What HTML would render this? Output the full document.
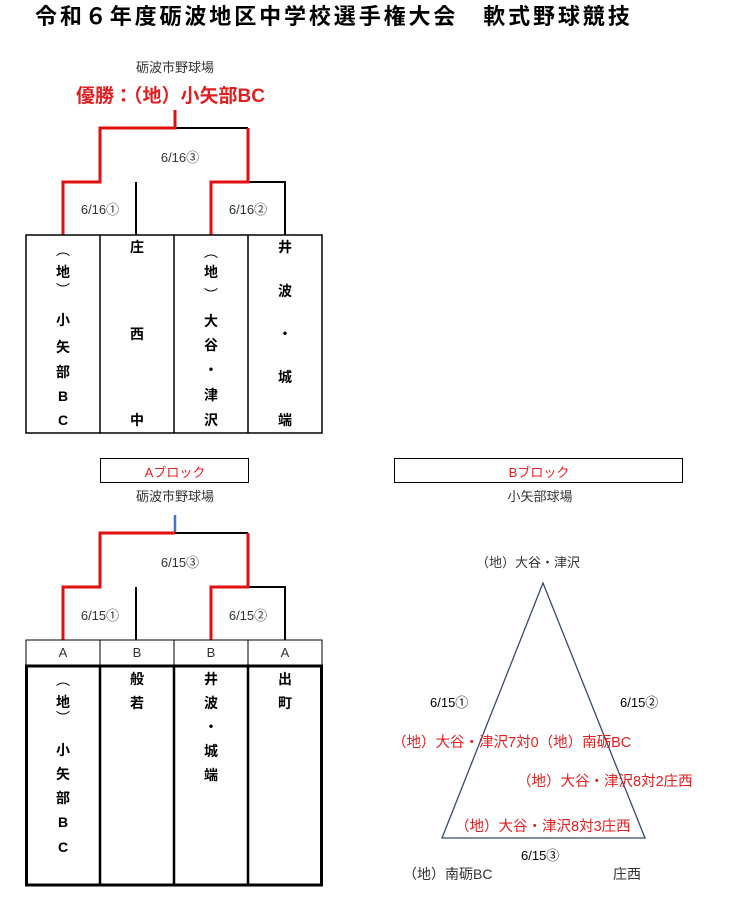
<!DOCTYPE html>
<html><head><meta charset="utf-8"><style>
body{margin:0;width:755px;height:901px;background:#fff;position:relative;overflow:hidden;font-family:"Liberation Sans","Noto Sans CJK JP",sans-serif;}
.a{position:absolute;white-space:nowrap;}
.c{position:absolute;width:40px;text-align:center;font-weight:bold;font-size:14px;line-height:16px;color:#000;}
.t{position:absolute;font-size:13px;color:#333;white-space:nowrap;text-align:center;}
.r{color:#e02020;}
</style></head><body>
<div class="a" style="left:35px;top:3px;font-size:22px;font-weight:bold;letter-spacing:2.9px;line-height:28px;">令和６年度砺波地区中学校選手権大会　軟式野球競技</div>
<div class="t" style="left:100px;width:150px;top:57px;">砺波市野球場</div>
<div class="a" style="left:76px;top:86px;font-size:19px;font-weight:bold;color:#e02020;line-height:22px;">優勝：（地）小矢部BC</div>

<svg width="755" height="901" style="position:absolute;left:0;top:0" xmlns="http://www.w3.org/2000/svg">
<g fill="none" stroke-width="2">
<path d="M175 128H248" stroke="#000"/>
<path d="M136 182V235M248 182H285V235" stroke="#000"/>
<path d="M175 110V128H100V182H63V235" stroke="#e01010" stroke-width="3"/>
<path d="M248 128V182H211V235" stroke="#e01010" stroke-width="3"/>
<rect x="26" y="235" width="296" height="198" stroke="#000" stroke-width="1.5"/>
<path d="M100 235V433M174 235V433M248 235V433" stroke="#000" stroke-width="1.5"/>
<rect x="100.5" y="458.5" width="148" height="24" stroke="#000" stroke-width="1"/>
<rect x="394.5" y="458.5" width="288" height="24" stroke="#000" stroke-width="1"/>
<path d="M175 515V533" stroke="#4472c4" stroke-width="2.5"/>
<path d="M175 533H248M136 587V640M248 587H285V640" stroke="#000"/>
<path d="M175 533H100V587H63V640" stroke="#e01010" stroke-width="3"/>
<path d="M248 533V587H211V640" stroke="#e01010" stroke-width="3"/>
<rect x="26" y="640" width="296" height="25" stroke="#000" stroke-width="1"/>
<path d="M100 640V665M174 640V665M248 640V665" stroke="#000" stroke-width="1"/>
<rect x="26.5" y="666" width="295" height="219" stroke="#000" stroke-width="3"/>
<path d="M100 666V885M174 666V885M248 666V885" stroke="#000" stroke-width="2.5"/>
<path d="M543 583L442 838H645Z" stroke="#3a4a6a" stroke-width="1.3"/>
</g>
</svg>

<div class="t" style="left:130px;width:100px;top:147px;">6/16③</div>
<div class="t" style="left:60px;width:80px;top:199px;">6/16①</div>
<div class="t" style="left:208px;width:80px;top:199px;">6/16②</div>

<div class="c" style="left:43px;top:242px;font-weight:normal">︵</div>
<div class="c" style="left:43px;top:264px;">地</div>
<div class="c" style="left:43px;top:282px;font-weight:normal">︶</div>
<div class="c" style="left:43px;top:312px;">小</div>
<div class="c" style="left:43px;top:339px;">矢</div>
<div class="c" style="left:43px;top:364px;">部</div>
<div class="c" style="left:43px;top:388px;">B</div>
<div class="c" style="left:43px;top:412px;">C</div>
<div class="c" style="left:117px;top:239px;">庄</div>
<div class="c" style="left:117px;top:326px;">西</div>
<div class="c" style="left:117px;top:412px;">中</div>
<div class="c" style="left:191px;top:244px;font-weight:normal">︵</div>
<div class="c" style="left:191px;top:264px;">地</div>
<div class="c" style="left:191px;top:287px;font-weight:normal">︶</div>
<div class="c" style="left:191px;top:313px;">大</div>
<div class="c" style="left:191px;top:337px;">谷</div>
<div class="c" style="left:191px;top:362px;">・</div>
<div class="c" style="left:191px;top:387px;">津</div>
<div class="c" style="left:191px;top:412px;">沢</div>
<div class="c" style="left:265px;top:239px;">井</div>
<div class="c" style="left:265px;top:283px;">波</div>
<div class="c" style="left:265px;top:326px;">・</div>
<div class="c" style="left:265px;top:369px;">城</div>
<div class="c" style="left:265px;top:412px;">端</div>

<div class="t r" style="left:100px;width:150px;top:462px;">Aブロック</div>
<div class="t r" style="left:394px;width:290px;top:462px;">Bブロック</div>
<div class="t" style="left:100px;width:150px;top:486px;">砺波市野球場</div>
<div class="t" style="left:470px;width:140px;top:486px;">小矢部球場</div>

<div class="t" style="left:130px;width:100px;top:552px;">6/15③</div>
<div class="t" style="left:60px;width:80px;top:605px;">6/15①</div>
<div class="t" style="left:208px;width:80px;top:605px;">6/15②</div>

<div class="t" style="left:43px;width:40px;top:645px;">A</div>
<div class="t" style="left:117px;width:40px;top:645px;">B</div>
<div class="t" style="left:191px;width:40px;top:645px;">B</div>
<div class="t" style="left:265px;width:40px;top:645px;">A</div>

<div class="c" style="left:43px;top:672px;font-weight:normal">︵</div>
<div class="c" style="left:43px;top:694px;">地</div>
<div class="c" style="left:43px;top:710px;font-weight:normal">︶</div>
<div class="c" style="left:43px;top:742px;">小</div>
<div class="c" style="left:43px;top:766px;">矢</div>
<div class="c" style="left:43px;top:790px;">部</div>
<div class="c" style="left:43px;top:814px;">B</div>
<div class="c" style="left:43px;top:839px;">C</div>
<div class="c" style="left:117px;top:671px;">般</div>
<div class="c" style="left:117px;top:695px;">若</div>
<div class="c" style="left:191px;top:671px;">井</div>
<div class="c" style="left:191px;top:695px;">波</div>
<div class="c" style="left:191px;top:719px;">・</div>
<div class="c" style="left:191px;top:743px;">城</div>
<div class="c" style="left:191px;top:767px;">端</div>
<div class="c" style="left:265px;top:671px;">出</div>
<div class="c" style="left:265px;top:695px;">町</div>

<div class="a" style="left:476px;top:552px;font-size:13px;color:#333;">（地）大谷・津沢</div>
<div class="a" style="left:430px;top:692px;font-size:13px;color:#000;">6/15①</div>
<div class="a" style="left:620px;top:692px;font-size:13px;color:#000;">6/15②</div>
<div class="a r" style="left:392px;top:731px;font-size:14.5px;">（地）大谷・津沢7対0（地）南砺BC</div>
<div class="a r" style="left:517px;top:770px;font-size:14.5px;">（地）大谷・津沢8対2庄西</div>
<div class="a r" style="left:455px;top:815px;font-size:14.5px;">（地）大谷・津沢8対3庄西</div>
<div class="a" style="left:521px;top:845px;font-size:13px;color:#000;">6/15③</div>
<div class="a" style="left:403px;top:864px;font-size:14px;color:#333;">（地）南砺BC</div>
<div class="a" style="left:613px;top:864px;font-size:14px;color:#333;">庄西</div>
</body></html>
